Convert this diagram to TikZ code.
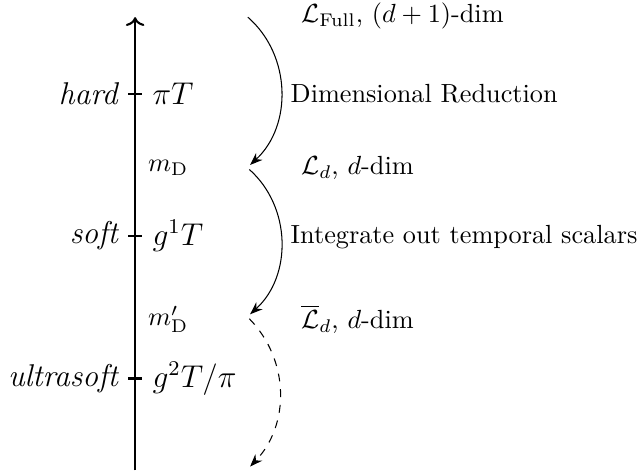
\documentclass[tikz,border=0pt]{standalone}
\usepackage{amsmath,amssymb}
\usetikzlibrary{arrows.meta}

\begin{document}
\begin{tikzpicture}[thin]
            \useasboundingbox (0,0) rectangle (8.6,6.3);

            % energy axis
            \coordinate (axbot) at (1.81, 0);
            \coordinate (axtop) at (1.81, 6.07);
            \draw[->, thick] (axbot) -- (axtop);

            \coordinate (Th) at (1.81, 5.04);
            \coordinate (Ts) at (1.81, 3.14);
            \coordinate (Tu) at (1.81, 1.23);

            \draw[thick] (Th) ++(-0.09, 0) -- ++(0.18, 0);
            \draw[thick] (Ts) ++(-0.09, 0) -- ++(0.18, 0);
            \draw[thick] (Tu) ++(-0.09, 0) -- ++(0.18, 0);

            \node[left, font=\large] (hard) at (1.72, 5.04) {\emph{hard}};
            \node[left, font=\large] (soft) at (1.72, 3.14) {\emph{soft}};
            \node[left, font=\large] (usoft) at (1.72, 1.23) {\emph{ultrasoft}};

            \node[right, font=\large] (piT) at (1.92, 5.04) {$\pi T$};
            \node[right, font=\large] (gT) at (1.92, 3.14) {$g^1 T$};
            \node[right, font=\large] (ggT) at (1.92, 1.23) {$g^2 T/\pi$};

            \node[right] (mD) at (1.86, 4.05) {$m_{\mathrm{D}}$};
            \node[right] (mDp) at (1.86, 2.02) {$m'_{\mathrm{D}}$};

            % theories
            \node[right] (Lfull) at (3.91, 6.08) {$\mathcal{L}_{\text{Full}}$, $(d+1)$-dim};
            \node[right] (Ld) at (3.91, 4.05) {$\mathcal{L}_d$, $d$-dim};
            \node[right] (Lbar) at (3.91, 2.02) {$\overline{\mathcal{L}}_d$, $d$-dim};

            \node[right] (DR) at (3.77, 5.04) {Dimensional Reduction};
            \node[right] (IO) at (3.77, 3.12) {Integrate out temporal scalars};

            % reduction steps
            \coordinate (s0) at (3.32, 6.07);
            \coordinate (e0) at (3.35, 4.09);
            \coordinate (s1) at (3.34, 4.03);
            \coordinate (e1) at (3.35, 2.09);
            \coordinate (s2) at (3.34, 2.03);
            \coordinate (e2) at (3.35, 0.05);

            \draw[-{Stealth}] (s0) to[bend left=48] (e0);
            \draw[-{Stealth}] (s1) to[bend left=48] (e1);
            \draw[-{Stealth}, dashed] (s2) to[bend left=44] (e2);
        \end{tikzpicture}
\end{document}
